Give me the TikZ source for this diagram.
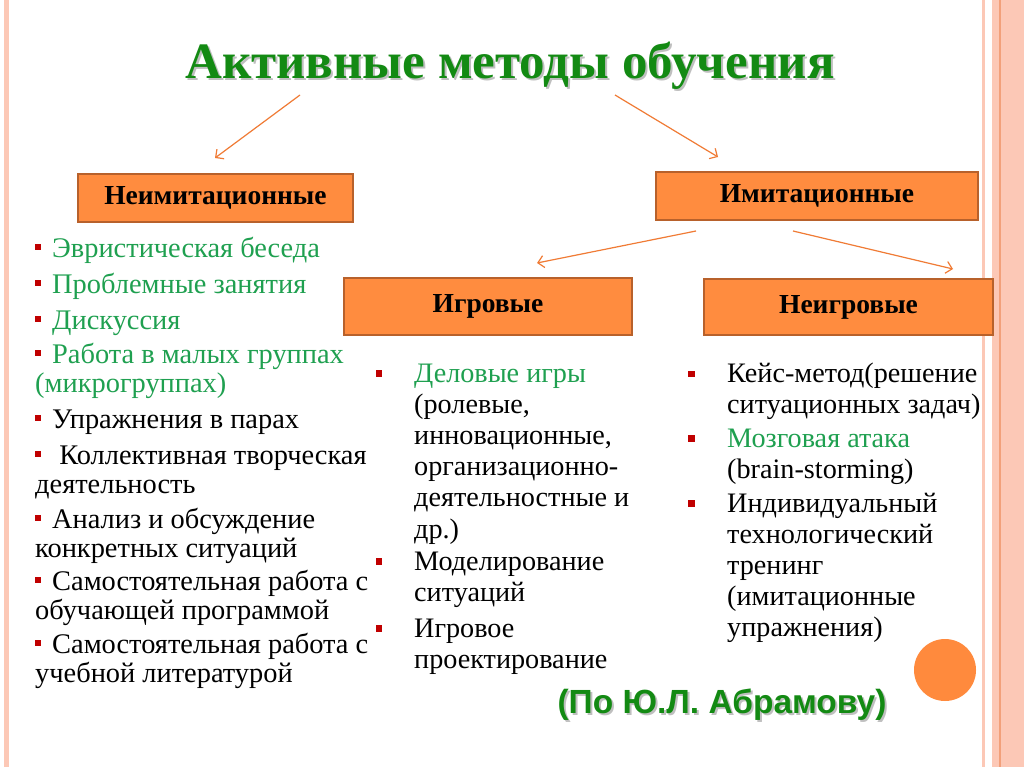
\documentclass[tikz,border=0pt]{standalone}
\usepackage{fontspec}
\setmainfont{Liberation Serif}
\newfontfamily\arialfont{Liberation Sans}
\usetikzlibrary{arrows.meta}
\definecolor{titlegreen}{HTML}{138A13}
\definecolor{listgreen}{HTML}{1FA050}
\definecolor{boxfill}{HTML}{FF8C3F}
\definecolor{boxline}{HTML}{B8612B}
\definecolor{arrowc}{HTML}{F07B35}
\definecolor{stripe}{HTML}{FCC8B6}
\definecolor{stripedark}{HTML}{F2A07A}
\definecolor{bulred}{HTML}{C00000}
\definecolor{circfill}{HTML}{FF8A3D}
\newcommand{\bul}{\raisebox{7pt}{\textcolor{bulred}{\rule{6pt}{6pt}}}\hspace{11pt}}
\newcommand{\stk}[1]{\begin{tabular}[t]{@{}l@{}}#1\end{tabular}}
\tikzset{
  catbox/.style={draw=boxline, fill=boxfill, line width=1.5pt, inner sep=0pt,
    font=\fontsize{27.5}{30}\selectfont\bfseries},
  link/.style={draw=arrowc, line width=1.2pt, -{Straight Barb[length=6pt,width=12pt]}},
  leftlist/.style={anchor=base west, inner sep=0pt,
    font=\fontsize{28.4}{29.5}\selectfont},
  sublist/.style={anchor=base west, inner sep=0pt,
    font=\fontsize{28.2}{31.2}\selectfont},
  sqbul/.style={fill=bulred, inner sep=0pt, minimum size=6.5pt},
}
\begin{document}
\begin{tikzpicture}[x=1pt,y=-1pt]
\useasboundingbox (0,0) rectangle (1024,767);
\fill[white] (0,0) rectangle (1024,767);
% border stripes
\fill[stripe] (4,0) rectangle (9,767);
\fill[stripe] (982,0) rectangle (985,767);
\fill[stripe] (992,0) rectangle (1024,767);
\fill[stripedark] (999,0) rectangle (1001,767);
% title
\node[text=black!25, font=\fontsize{51}{55}\selectfont\bfseries] at (512,68) {Активные методы обучения};
\node[text=titlegreen, font=\fontsize{51}{55}\selectfont\bfseries] (title) at (510,66) {Активные методы обучения};
% category boxes
\node[catbox, minimum width=275pt, minimum height=48pt] (neimit) at (215.5,198) {Неимитационные};
\node[catbox, minimum width=322pt, minimum height=48pt] (imit) at (817,196) {Имитационные};
\node[catbox, minimum width=288pt, minimum height=57pt] (igr) at (488,306.5) {Игровые};
\node[catbox, minimum width=289pt, minimum height=56pt] (neigr) at (848.5,307) {Неигровые};
% arrows
\coordinate (tL) at (300,95);
\coordinate (tR) at (615,95);
\coordinate (nL) at (215,158);
\coordinate (iR) at (718,157);
\draw[link] (tL) -- (nL);
\draw[link] (tR) -- (iR);
\coordinate (imL) at (696,231);
\coordinate (imR) at (793,231);
\coordinate (gL) at (537,263);
\coordinate (gR) at (953,269);
\draw[link] (imL) -- (gL);
\draw[link] (imR) -- (gR);
% left list
\node[leftlist, text=listgreen] (l1) at (35,257) {\bul Эвристическая беседа};
\node[leftlist, text=listgreen] (l2) at (35,293) {\bul Проблемные занятия};
\node[leftlist, text=listgreen] (l3) at (35,329) {\bul Дискуссия};
\node[leftlist, text=listgreen] (l4) at (35,363) {\stk{\bul Работа в малых группах\\(микрогруппах)}};
\node[leftlist] (l5) at (35,428) {\bul Упражнения в парах};
\node[leftlist] (l6) at (35,464) {\stk{\bul\ Коллективная творческая\\деятельность}};
\node[leftlist] (l7) at (35,528) {\stk{\bul Анализ и обсуждение\\конкретных ситуаций}};
\node[leftlist] (l8) at (35,590) {\stk{\bul Самостоятельная работа с\\обучающей программой}};
\node[leftlist] (l9) at (35,653) {\stk{\bul Самостоятельная работа с\\учебной литературой}};
% middle list
\node[sqbul] (mb1) at (379,373.5) {};
\node[sublist] (m1) at (414,382) {\stk{\textcolor{listgreen}{Деловые игры}\\(ролевые,\\инновационные,\\организационно-\\деятельностные и\\др.)}};
\node[sqbul] (mb2) at (379,561.5) {};
\node[sublist] (m2) at (414,570) {\stk{Моделирование\\ситуаций}};
\node[sqbul] (mb3) at (379,628.5) {};
\node[sublist] (m3) at (414,637) {\stk{Игровое\\проектирование}};
% right list
\node[sqbul] (rb1) at (691.5,374) {};
\node[sublist] (r1) at (727,382) {\stk{Кейс-метод(решение\\ситуационных задач)}};
\node[sqbul] (rb2) at (691.5,438.5) {};
\node[sublist] (r2) at (727,447) {\stk{\textcolor{listgreen}{Мозговая атака}\\(brain-storming)}};
\node[sqbul] (rb3) at (691.5,503.5) {};
\node[sublist] (r3) at (727,512) {\stk{Индивидуальный\\технологический\\тренинг\\(имитационные\\упражнения)}};
% circle
\node[circle, fill=circfill, minimum size=62pt, inner sep=0pt] (dot) at (945,670) {};
% author
\node[text=black!25, font=\arialfont\fontsize{33.5}{38}\selectfont\bfseries] at (724,707) {(По Ю.Л. Абрамову)};
\node[text=titlegreen, font=\arialfont\fontsize{33.5}{38}\selectfont\bfseries] (author) at (722,705) {(По Ю.Л. Абрамову)};
\end{tikzpicture}
\end{document}
